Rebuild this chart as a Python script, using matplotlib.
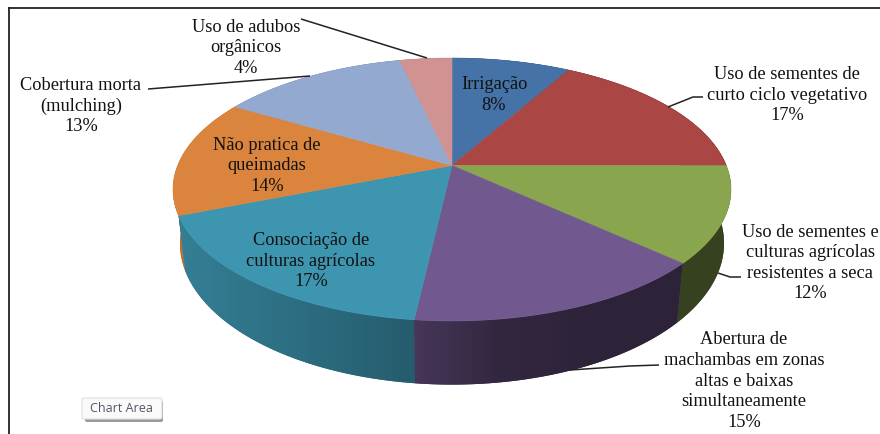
import matplotlib.pyplot as plt
import numpy as np
from matplotlib.colors import to_rgb
from matplotlib.patches import FancyBboxPatch, Polygon

# Data
labels = [
    "Irrigação",
    "Uso de sementes de\ncurto ciclo vegetativo",
    "Uso de sementes e\nculturas agrícolas\nresistentes a seca",
    "Abertura de\nmachambas em zonas\naltas e baixas\nsimultaneamente",
    "Consociação de\nculturas agrícolas",
    "Não pratica de\nqueimadas",
    "Cobertura morta\n(mulching)",
    "Uso de adubos\norgânicos",
]
# shares read from the slice edges, the labels show them rounded
values = [8.2, 16.8, 11.8, 15.0, 17.2, 14.4, 13.0, 3.6]
colors = ["#4572A7", "#AA4643", "#89A54E", "#71588F", "#3D95B0", "#DB843D", "#93A9CF", "#D19392"]

# label centres, in pixels of the picture
label_x = [494, 787, 810, 744, 311, 267, 81, 246]
label_y = [95, 95, 263, 381, 261, 166, 106, 48]

# leader lines
leaders = [
    ([668, 693, 703], [107, 97, 97]),
    ([718, 730, 741], [273, 277, 277]),
    ([570, 630, 659], [370, 366, 365]),
    ([148, 310], [89, 76]),
    ([301, 427], [19, 58]),
]

# pie geometry
cx, cy = 452, 165.5
rx, ry = 274.3, 127.1
persp = 0.1825
depth = 52
bottom_scale = 0.975


def project(theta, bottom=False):
    # theta is clockwise from the back of the pie, in radians
    u, v = np.sin(theta), -np.cos(theta)
    w = 1 - persp * v
    x = rx * u / w
    y = ry * v / w
    if bottom:
        return cx + x * bottom_scale, cy + y + depth / w
    return cx + x, cy + y


fig = plt.figure(figsize=(8.8, 4.34), dpi=100)
ax = fig.add_axes([0, 0, 1, 1])

edges = np.deg2rad(np.cumsum([0] + values) * 3.6)

# side wall, one gradient per slice, back slices first
xgrid = np.arange(150, 760)
shade = np.interp(xgrid, [180, 415, 500, 600, 740], [0.85, 0.62, 0.44, 0.4, 0.4])
order = np.argsort(-np.cos((edges[:-1] + edges[1:]) / 2))
for i in order:
    t = np.linspace(edges[i], edges[i + 1], 80)
    xt, yt = project(t)
    xb, yb = project(t, bottom=True)
    rgb = np.array(to_rgb(colors[i]))
    wall = Polygon(np.c_[np.r_[xt, xb[::-1]], np.r_[yt, yb[::-1]]], closed=True,
                   fc=rgb * np.interp(xb.mean(), xgrid, shade), ec="none", zorder=2)
    ax.add_patch(wall)
    grad = (shade[:, None] * rgb)[None, :, :]
    im = ax.imshow(grad, extent=(149.5, 759.5, 434, 0), aspect="auto", zorder=2, interpolation="nearest")
    im.set_clip_path(wall)

# top face
for i, color in enumerate(colors):
    t = np.linspace(edges[i], edges[i + 1], 60)
    xt, yt = project(t)
    ax.fill(np.r_[cx, xt], np.r_[cy, yt], color=color, lw=0.4, zorder=3)

ax.set_xlim(0, 880)
ax.set_ylim(434, 0)
ax.axis("off")

# leader lines
for xs, ys in leaders:
    ax.plot(xs, ys, color="#222222", lw=1.1, zorder=4, solid_capstyle="butt")

# data labels
for i, name in enumerate(labels):
    ax.text(label_x[i], label_y[i], f"{name}\n{round(values[i])}%", ha="center", va="center",
            family="Liberation Serif", fontsize=13.2, linespacing=1.28, color="#111111", zorder=5)

# chart frame
ax.plot([9, 9], [434, 8], color="#222222", lw=1.3, zorder=6)
ax.plot([9, 880], [8, 8], color="#222222", lw=1.3, zorder=6)

# tooltip
ax.add_patch(FancyBboxPatch((85, 401), 78, 21, boxstyle="round,pad=0,rounding_size=2",
                            fc="#9a9a9a", ec="none", zorder=6))
ax.add_patch(FancyBboxPatch((82, 398), 80, 21, boxstyle="round,pad=0,rounding_size=2",
                            fc="#FAFAFA", ec="#DDDDDD", lw=0.8, zorder=7))
ax.text(121, 409, "Chart Area", ha="center", va="center", family="Open Sans",
        fontsize=9, color="#555566", zorder=8)

fig.savefig("out.png", dpi=100)
